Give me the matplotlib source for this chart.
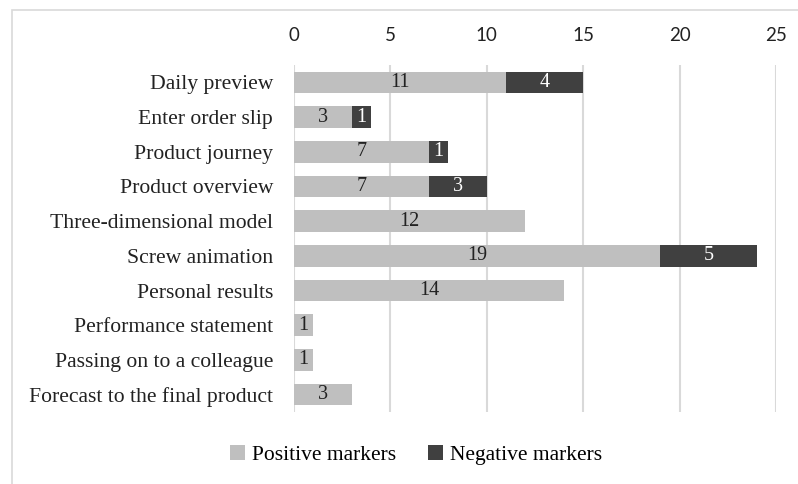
import matplotlib.pyplot as plt
from matplotlib.patches import Rectangle

categories = [
    "Daily preview",
    "Enter order slip",
    "Product journey",
    "Product overview",
    "Three-dimensional model",
    "Screw animation",
    "Personal results",
    "Performance statement",
    "Passing on to a colleague",
    "Forecast to the final product",
]
positive = [11, 3, 7, 7, 12, 19, 14, 1, 1, 3]
negative = [4, 1, 1, 3, 0, 5, 0, 0, 0, 0]
xticks = [0, 5, 10, 15, 20, 25]

serif = "Liberation Serif"
pos_color = "#bfbfbf"
neg_color = "#404040"
grid_color = "#d9d9d9"

fig = plt.figure(figsize=(7.98, 4.84), dpi=100)
ax = fig.add_axes([294 / 798, 1 - 412 / 484, 482 / 798, 347 / 484])

# outer chart frame
fig.patches.append(Rectangle((12 / 798, -0.05), 1.0, 1 - 10 / 484 + 0.05,
                             transform=fig.transFigure, fill=False,
                             edgecolor="#d9d9d9", linewidth=1.2))

y = list(range(len(categories)))
bars_pos = ax.barh(y, positive, height=0.62, color=pos_color, label="Positive markers", zorder=3)
bars_neg = ax.barh(y, negative, left=positive, height=0.62, color=neg_color,
                   label="Negative markers", zorder=3)

for b, v in zip(bars_pos, positive):
    if v:
        ax.text(b.get_x() + b.get_width() / 2, b.get_y() + b.get_height() / 2, str(v),
                ha="center", va="center", fontsize=14.5, family=serif, color="#222222", zorder=4)
for b, v in zip(bars_neg, negative):
    if v:
        ax.text(b.get_x() + b.get_width() / 2, b.get_y() + b.get_height() / 2, str(v),
                ha="center", va="center", fontsize=14.5, family=serif, color="white", zorder=4)

ax.set_xlim(0, 25)
ax.set_ylim(len(categories) - 0.5, -0.5)
ax.set_xticks(xticks)
ax.set_yticks(y)
ax.set_yticklabels(categories, family=serif, fontsize=15.6, color="#222222")
ax.xaxis.tick_top()
ax.tick_params(axis="x", length=0, pad=15, labelsize=13.5, labelcolor="#222222")
ax.tick_params(axis="y", length=0, pad=15)
for lab in ax.get_xticklabels():
    lab.set_family("Lato")
ax.grid(axis="x", color=grid_color, linewidth=1.5, zorder=0)
for s in ax.spines.values():
    s.set_visible(False)

fig.legend(handles=[bars_pos, bars_neg], loc="center", bbox_to_anchor=(416 / 798, 1 - 455 / 484),
           ncol=2, frameon=False, prop={"family": serif, "size": 15.5},
           handlelength=0.7, handleheight=0.7, handletextpad=0.3, columnspacing=1.5)

fig.savefig("out.png", dpi=100)
